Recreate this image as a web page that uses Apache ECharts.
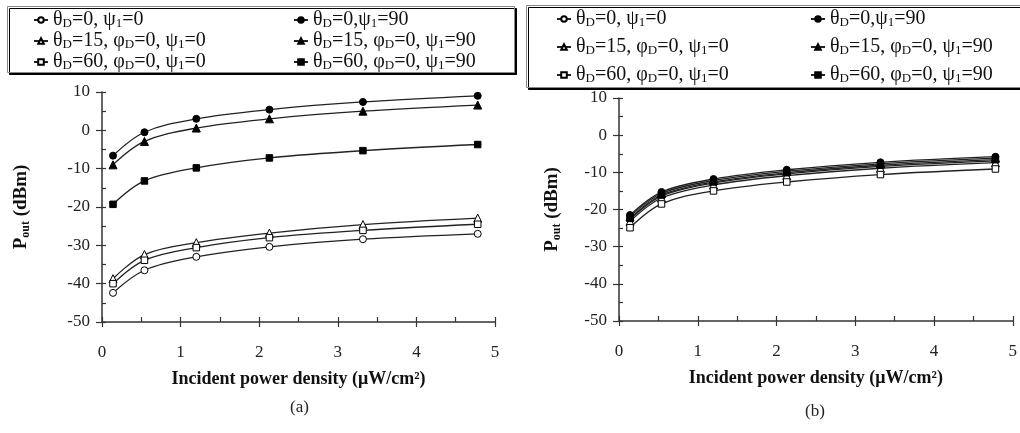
<!DOCTYPE html>
<html>
<head>
<meta charset="utf-8">
<script src="https://cdn.jsdelivr.net/npm/echarts@6/dist/echarts.min.js"></script>
<style>html,body{margin:0;padding:0;background:#fff}#c{width:1020px;height:433px}</style>
</head>
<body>
<div id="c"></div>
<script>
// ---- data ----
const xValues = [0.14, 0.54, 1.2, 2.13, 3.32, 4.78];
const xTicks = [0, 1, 2, 3, 4, 5];
const yTicks = [-50, -40, -30, -20, -10, 0, 10];
const seriesNames = ['θD=0, ψ1=0', 'θD=15, φD=0, ψ1=0', 'θD=60, φD=0, ψ1=0',
                     'θD=0, ψ1=90', 'θD=15, φD=0, ψ1=90', 'θD=60, φD=0, ψ1=90'];
const legendRich = ['θ{s|D}=0, ψ{s|1}=0', 'θ{s|D}=15, φ{s|D}=0, ψ{s|1}=0', 'θ{s|D}=60, φ{s|D}=0, ψ{s|1}=0',
                    'θ{s|D}=0,ψ{s|1}=90', 'θ{s|D}=15, φ{s|D}=0, ψ{s|1}=90', 'θ{s|D}=60, φ{s|D}=0, ψ{s|1}=90'];
// chart (a)
const a_t0_p0   = [-42.4, -36.5, -33.0, -30.4, -28.4, -27.0];
const a_t15_p0  = [-38.7, -32.4, -29.3, -26.8, -24.6, -22.9];
const a_t60_p0  = [-40.0, -33.9, -30.6, -28.0, -26.1, -24.5];
const a_t0_p90  = [-6.6, -0.5, 3.0, 5.4, 7.4, 9.0];
const a_t15_p90 = [-9.0, -2.9, 0.6, 3.0, 5.0, 6.6];
const a_t60_p90 = [-19.3, -13.2, -9.8, -7.2, -5.3, -3.7];
// chart (b)
const b_t0_p0   = [-22.7, -16.4, -12.9, -10.4, -8.4, -6.9];
const b_t15_p0  = [-23.2, -16.9, -13.4, -10.9, -8.9, -7.4];
const b_t60_p0  = [-24.9, -18.5, -15.0, -12.6, -10.6, -9.1];
const b_t0_p90  = [-21.5, -15.3, -11.8, -9.3, -7.3, -5.8];
const b_t15_p90 = [-21.9, -15.7, -12.2, -9.7, -7.7, -6.2];
const b_t60_p90 = [-22.4, -16.1, -12.6, -10.1, -8.1, -6.6];

const FONT = 'Liberation Serif';
const symbols = ['circle', 'triangle', 'rect', 'circle', 'triangle', 'rect'];
const symSizes = [7, 8, 6.5, 7, 8, 6.5];
const filled = [false, false, false, true, true, true];

function pairs(ys) { return xValues.map((x, i) => [x, ys[i]]); }

function mkSeries(dataSets, xi, yi) {
  return dataSets.map((ys, k) => ({
    type: 'line', name: seriesNames[k], xAxisIndex: xi, yAxisIndex: yi,
    data: pairs(ys), smooth: 0.35, symbol: symbols[k], symbolSize: symSizes[k],
    showAllSymbol: true, z: filled[k] ? 4 : 3,
    lineStyle: { color: '#222', width: 1.3 },
    itemStyle: { color: filled[k] ? '#000' : '#fff', borderColor: '#000', borderWidth: 1 }
  }));
}

const axisTextBase = { fontFamily: FONT, color: '#222', fontSize: 17 };

function mkX(gi) {
  return [
    { type: 'value', gridIndex: gi, min: 0, max: 5, interval: 1,
      axisLine: { show: true, onZero: false, lineStyle: { color: '#333', width: 1.5 } },
      axisTick: { show: true, inside: false, length: 5, lineStyle: { color: '#333', width: 1.2 } },
      axisLabel: Object.assign({ margin: 22, formatter: v => xTicks.includes(v) ? String(v) : '' }, axisTextBase),
      splitLine: { show: false },
      name: 'Incident power density (μW/cm²)', nameLocation: 'middle', nameGap: 48,
      nameTextStyle: { fontFamily: FONT, fontSize: 18, fontWeight: 'bold', color: '#111' } },
    { type: 'value', gridIndex: gi, min: 0, max: 5, interval: 0.5, position: 'bottom',
      axisLine: { show: false, onZero: false }, axisLabel: { show: false }, splitLine: { show: false },
      axisTick: { show: true, inside: true, length: 5, lineStyle: { color: '#333', width: 1.2 } } }
  ];
}
function mkY(gi, gap) {
  return [
    { type: 'value', gridIndex: gi, min: -50, max: 10, interval: 10,
      axisLine: { show: true, onZero: false, lineStyle: { color: '#333', width: 1.5 } },
      axisTick: { show: true, inside: false, length: 6, lineStyle: { color: '#333', width: 1.2 } },
      axisLabel: Object.assign({ margin: 12, formatter: v => yTicks.includes(v) ? String(v) : '' }, axisTextBase),
      splitLine: { show: false },
      name: '{m|P}{s|out}{m| (dBm)}', nameLocation: 'middle', nameGap: gap, nameRotate: 90,
      nameTextStyle: { rich: {
        m: { fontFamily: FONT, fontSize: 19, fontWeight: 'bold', color: '#111', lineHeight: 22 },
        s: { fontFamily: FONT, fontSize: 12, fontWeight: 'bold', color: '#111', lineHeight: 12, verticalAlign: 'bottom' } } } },
    { type: 'value', gridIndex: gi, min: -50, max: 10, interval: 5, position: 'left',
      axisLine: { show: false, onZero: false }, axisLabel: { show: false }, splitLine: { show: false },
      axisTick: { show: true, inside: true, length: 4, lineStyle: { color: '#333', width: 1.2 } } }
  ];
}

function mkLegend(left, top, gap, idxs) {
  return {
    left: left, top: top, orient: 'vertical', itemGap: gap, itemWidth: 14, itemHeight: 7,
    selectedMode: false, data: idxs.map(i => seriesNames[i]),
    formatter: name => legendRich[seriesNames.indexOf(name)],
    textStyle: { fontFamily: FONT, fontSize: 20, color: '#111', lineHeight: 20,
      rich: {
        s: { fontFamily: FONT, fontSize: 13, color: '#111', lineHeight: 12, verticalAlign: 'bottom' }
      } },
    z: 10
  };
}

const option = {
  backgroundColor: '#fff',
  animation: false,
  grid: [
    { left: 102, top: 92, width: 393, height: 230 },
    { left: 619, top: 98, width: 394, height: 223 }
  ],
  xAxis: mkX(0).concat(mkX(1)),
  yAxis: mkY(0, 70).concat(mkY(1, 56)),
  legend: [
    mkLegend(28, 5, 1, [0, 1, 2]),
    mkLegend(288, 5, 1, [3, 4, 5]),
    mkLegend(551, 4, 8, [0, 1, 2]),
    mkLegend(805, 4, 8, [3, 4, 5])
  ],
  title: [
    { text: '(a)', left: 285, top: 394, textStyle: { fontFamily: FONT, fontSize: 17, fontWeight: 'normal', color: '#222' } },
    { text: '(b)', left: 800, top: 398, textStyle: { fontFamily: FONT, fontSize: 17, fontWeight: 'normal', color: '#222' } }
  ],
  graphic: [
    { type: 'rect', z: 0, shape: { x: 7.5, y: 6.5, width: 507, height: 66 },
      style: { fill: '#fff', stroke: '#888', lineWidth: 1, shadowColor: '#000', shadowOffsetX: 2, shadowOffsetY: 2, shadowBlur: 0 } },
    { type: 'rect', z: 0, shape: { x: 526.5, y: 5.5, width: 500, height: 82 },
      style: { fill: '#fff', stroke: '#888', lineWidth: 1, shadowColor: '#000', shadowOffsetX: 2, shadowOffsetY: 2, shadowBlur: 0 } }
  ],
  series: mkSeries([a_t0_p0, a_t15_p0, a_t60_p0, a_t0_p90, a_t15_p90, a_t60_p90], 0, 0)
    .concat(mkSeries([b_t0_p0, b_t15_p0, b_t60_p0, b_t0_p90, b_t15_p90, b_t60_p90], 2, 2))
};

const chart = echarts.init(document.getElementById('c'));
chart.setOption(option);
</script>
</body>
</html>
